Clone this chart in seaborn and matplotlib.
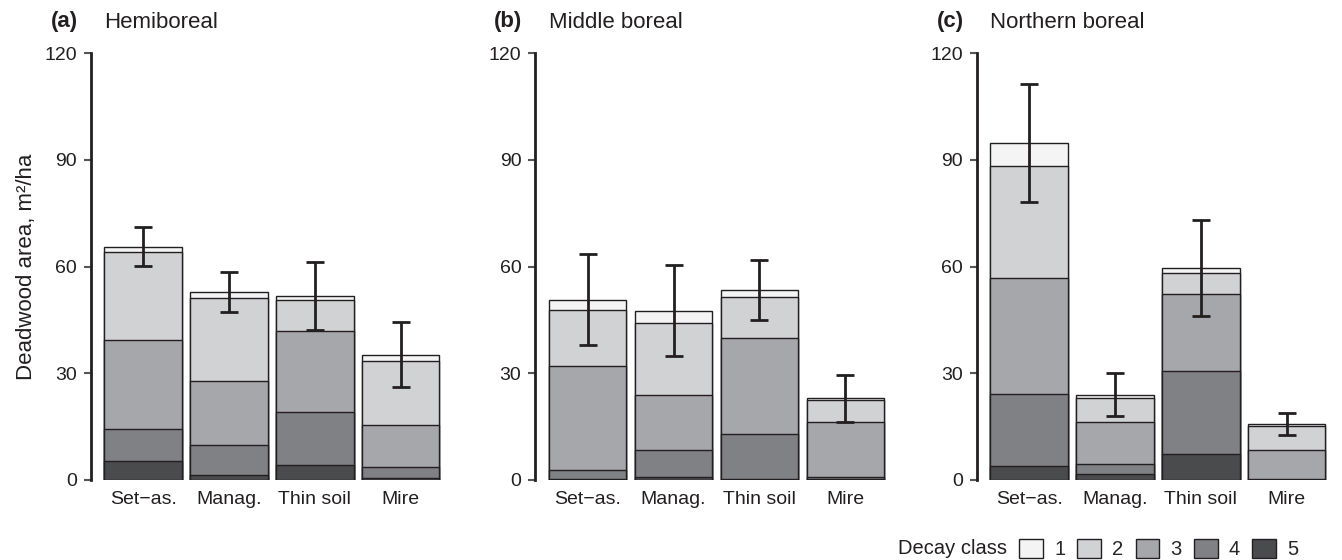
import numpy as np
import pandas as pd
import matplotlib
matplotlib.use("Agg")
import matplotlib.pyplot as plt
import matplotlib.transforms as mtransforms
from matplotlib.patches import Patch
import seaborn as sns

# ---------------- data ----------------
categories = ["Set\u2212as.", "Manag.", "Thin soil", "Mire"]
regions = ["Hemiboreal", "Middle boreal", "Northern boreal"]
panel_letters = ["(a)", "(b)", "(c)"]
decay_classes = ["1", "2", "3", "4", "5"]

# Hemiboreal, per decay class (values per category)
hemi_c1 = [1.6, 1.6, 1.2, 1.7]
hemi_c2 = [24.6, 23.5, 8.6, 18.0]
hemi_c3 = [25.0, 17.8, 22.9, 11.8]
hemi_c4 = [9.1, 8.4, 14.9, 3.1]
hemi_c5 = [5.3, 1.5, 4.1, 0.6]
hemi_err = [5.4, 5.6, 9.5, 9.2]

# Middle boreal
mid_c1 = [3.0, 3.6, 2.0, 0.55]
mid_c2 = [15.6, 20.1, 11.5, 6.2]
mid_c3 = [29.4, 15.4, 26.9, 15.3]
mid_c4 = [2.3, 7.6, 12.8, 0.7]
mid_c5 = [0.4, 0.9, 0.2, 0.2]
mid_err = [12.7, 12.8, 8.4, 6.6]

# Northern boreal
north_c1 = [6.5, 0.9, 1.4, 0.5]
north_c2 = [31.3, 6.75, 5.9, 6.9]
north_c3 = [32.7, 11.75, 21.6, 8.0]
north_c4 = [20.4, 2.9, 23.4, 0.2]
north_c5 = [3.8, 1.7, 7.3, 0.1]
north_err = [16.5, 6.1, 13.4, 3.0]

yticks = [0, 30, 60, 90, 120]

# ---------------- styling ----------------
class_colors = ["#f4f4f4", "#d1d2d4", "#a6a7aa", "#808184", "#4a4b4d"]
edge_col = "#231f20"

sns.set_theme(style="white")
plt.rcParams["font.family"] = ["Liberation Sans", "DejaVu Sans"]
plt.rcParams["font.size"] = 14

fig = plt.figure(figsize=(13.42, 5.6), dpi=100)
W, H = 1342.0, 560.0
lefts = [90.7, 535.3, 976.7]
ax_w = 353.0
ax_bottom, ax_top = 480.0, 53.0

region_data = [
    (hemi_c1, hemi_c2, hemi_c3, hemi_c4, hemi_c5, hemi_err),
    (mid_c1, mid_c2, mid_c3, mid_c4, mid_c5, mid_err),
    (north_c1, north_c2, north_c3, north_c4, north_c5, north_err),
]

for i, (region, letter, data) in enumerate(zip(regions, panel_letters, region_data)):
    ax = fig.add_axes([lefts[i] / W, (H - ax_bottom) / H, ax_w / W,
                       (ax_bottom - ax_top) / H])
    classes = data[:5]
    err = data[5]
    # cumulative heights: class 5 at bottom, class 1 on top
    stacked = np.zeros(len(categories))
    cums = []
    for cls_vals in reversed(classes):
        stacked = stacked + np.array(cls_vals)
        cums.append(stacked.copy())
    cums = cums[::-1]  # cums[0] = total (top of class 1)
    # draw from tallest to shortest so lower segments overlay
    for k in range(5):
        df = pd.DataFrame({"cat": categories, "val": cums[k]})
        sns.barplot(data=df, x="cat", y="val", order=categories, ax=ax,
                    color=class_colors[k], saturation=1, width=0.9,
                    edgecolor=edge_col, linewidth=1.0, errorbar=None)
    totals = cums[0]
    ax.errorbar(np.arange(len(categories)), totals, yerr=err, fmt="none",
                ecolor=edge_col, elinewidth=2.0, capsize=6.5, capthick=2.0,
                zorder=5)

    ax.set_ylim(0, 120)
    ax.set_xlim(-0.61, 3.5)
    ax.set_yticks(yticks)
    ax.set_yticklabels([str(t) for t in yticks], fontsize=14, color="#231f20")
    ax.set_xlabel("")
    ax.set_ylabel("")
    ax.tick_params(axis="y", length=5, width=1.5, color="#555555", pad=5,
                   left=True)
    ax.tick_params(axis="x", length=0, labelsize=14, pad=8,
                   labelcolor="#231f20")
    for s in ["top", "right", "bottom"]:
        ax.spines[s].set_visible(False)
    ax.spines["left"].set_color("#231f20")
    ax.spines["left"].set_linewidth(2.0)

    tr_left = mtransforms.offset_copy(ax.transAxes, fig=fig, x=-12.7 * 0.72,
                                      y=31 * 0.72, units="points")
    ax.text(0, 1, letter, transform=tr_left, ha="right", va="center",
            fontsize=16, fontweight="bold", color="#231f20")
    tr_right = mtransforms.offset_copy(ax.transAxes, fig=fig, x=13.3 * 0.72,
                                       y=31 * 0.72, units="points")
    ax.text(0, 1, region, transform=tr_right, ha="left", va="center",
            fontsize=16, color="#231f20")
    if i == 0:
        ax.set_ylabel("Deadwood area, m\u00b2/ha", fontsize=16,
                      color="#231f20", labelpad=5)

# legend
fig.text(1007 / W, 1 - 549 / H, "Decay class", ha="right", va="center",
         fontsize=14.5, color="#231f20")
handles = [Patch(facecolor=c, edgecolor=edge_col, linewidth=1.0)
           for c in class_colors]
fig.legend(handles, decay_classes, ncol=5, frameon=False,
           loc="center left", bbox_to_anchor=(1019 / W, 1 - 549 / H),
           fontsize=14.5, handlelength=1.19, handleheight=1.14,
           handletextpad=0.55, columnspacing=0.6, borderpad=0,
           borderaxespad=0)

fig.savefig("out.png", dpi=100)
